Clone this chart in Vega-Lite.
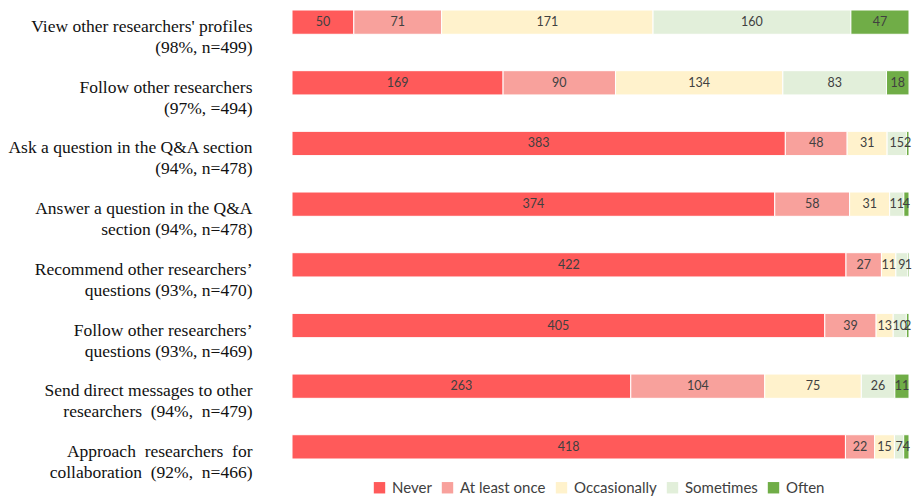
{
  "$schema": "https://vega.github.io/schema/vega-lite/v6.json",
  "autosize": {"type": "none"},
  "width": 617,
  "height": 449,
  "padding": {"left": 292, "top": 10, "right": 7, "bottom": 37},
  "background": "white",
  "config": {"view": {"stroke": null}},
  "data": {
    "values": [
      {"activity": "View other researchers' profiles\n(98%, n=499)", "order": 1, "freq": "Never", "rank": 1, "count": 50},
      {"activity": "View other researchers' profiles\n(98%, n=499)", "order": 1, "freq": "At least once", "rank": 2, "count": 71},
      {"activity": "View other researchers' profiles\n(98%, n=499)", "order": 1, "freq": "Occasionally", "rank": 3, "count": 171},
      {"activity": "View other researchers' profiles\n(98%, n=499)", "order": 1, "freq": "Sometimes", "rank": 4, "count": 160},
      {"activity": "View other researchers' profiles\n(98%, n=499)", "order": 1, "freq": "Often", "rank": 5, "count": 47},

      {"activity": "Follow other researchers\n(97%, =494)", "order": 2, "freq": "Never", "rank": 1, "count": 169},
      {"activity": "Follow other researchers\n(97%, =494)", "order": 2, "freq": "At least once", "rank": 2, "count": 90},
      {"activity": "Follow other researchers\n(97%, =494)", "order": 2, "freq": "Occasionally", "rank": 3, "count": 134},
      {"activity": "Follow other researchers\n(97%, =494)", "order": 2, "freq": "Sometimes", "rank": 4, "count": 83},
      {"activity": "Follow other researchers\n(97%, =494)", "order": 2, "freq": "Often", "rank": 5, "count": 18},

      {"activity": "Ask a question in the Q&A section\n(94%, n=478)", "order": 3, "freq": "Never", "rank": 1, "count": 383},
      {"activity": "Ask a question in the Q&A section\n(94%, n=478)", "order": 3, "freq": "At least once", "rank": 2, "count": 48},
      {"activity": "Ask a question in the Q&A section\n(94%, n=478)", "order": 3, "freq": "Occasionally", "rank": 3, "count": 31},
      {"activity": "Ask a question in the Q&A section\n(94%, n=478)", "order": 3, "freq": "Sometimes", "rank": 4, "count": 15},
      {"activity": "Ask a question in the Q&A section\n(94%, n=478)", "order": 3, "freq": "Often", "rank": 5, "count": 2},

      {"activity": "Answer a question in the Q&A\nsection (94%, n=478)", "order": 4, "freq": "Never", "rank": 1, "count": 374},
      {"activity": "Answer a question in the Q&A\nsection (94%, n=478)", "order": 4, "freq": "At least once", "rank": 2, "count": 58},
      {"activity": "Answer a question in the Q&A\nsection (94%, n=478)", "order": 4, "freq": "Occasionally", "rank": 3, "count": 31},
      {"activity": "Answer a question in the Q&A\nsection (94%, n=478)", "order": 4, "freq": "Sometimes", "rank": 4, "count": 11},
      {"activity": "Answer a question in the Q&A\nsection (94%, n=478)", "order": 4, "freq": "Often", "rank": 5, "count": 4},

      {"activity": "Recommend other researchers’\nquestions (93%, n=470)", "order": 5, "freq": "Never", "rank": 1, "count": 422},
      {"activity": "Recommend other researchers’\nquestions (93%, n=470)", "order": 5, "freq": "At least once", "rank": 2, "count": 27},
      {"activity": "Recommend other researchers’\nquestions (93%, n=470)", "order": 5, "freq": "Occasionally", "rank": 3, "count": 11},
      {"activity": "Recommend other researchers’\nquestions (93%, n=470)", "order": 5, "freq": "Sometimes", "rank": 4, "count": 9},
      {"activity": "Recommend other researchers’\nquestions (93%, n=470)", "order": 5, "freq": "Often", "rank": 5, "count": 1},

      {"activity": "Follow other researchers’\nquestions (93%, n=469)", "order": 6, "freq": "Never", "rank": 1, "count": 405},
      {"activity": "Follow other researchers’\nquestions (93%, n=469)", "order": 6, "freq": "At least once", "rank": 2, "count": 39},
      {"activity": "Follow other researchers’\nquestions (93%, n=469)", "order": 6, "freq": "Occasionally", "rank": 3, "count": 13},
      {"activity": "Follow other researchers’\nquestions (93%, n=469)", "order": 6, "freq": "Sometimes", "rank": 4, "count": 10},
      {"activity": "Follow other researchers’\nquestions (93%, n=469)", "order": 6, "freq": "Often", "rank": 5, "count": 2},

      {"activity": "Send direct messages to other\nresearchers\u00a0 (94%,\u00a0 n=479)", "order": 7, "freq": "Never", "rank": 1, "count": 263},
      {"activity": "Send direct messages to other\nresearchers\u00a0 (94%,\u00a0 n=479)", "order": 7, "freq": "At least once", "rank": 2, "count": 104},
      {"activity": "Send direct messages to other\nresearchers\u00a0 (94%,\u00a0 n=479)", "order": 7, "freq": "Occasionally", "rank": 3, "count": 75},
      {"activity": "Send direct messages to other\nresearchers\u00a0 (94%,\u00a0 n=479)", "order": 7, "freq": "Sometimes", "rank": 4, "count": 26},
      {"activity": "Send direct messages to other\nresearchers\u00a0 (94%,\u00a0 n=479)", "order": 7, "freq": "Often", "rank": 5, "count": 11},

      {"activity": "Approach\u00a0 researchers\u00a0 for\ncollaboration\u00a0 (92%,\u00a0 n=466)", "order": 8, "freq": "Never", "rank": 1, "count": 418},
      {"activity": "Approach\u00a0 researchers\u00a0 for\ncollaboration\u00a0 (92%,\u00a0 n=466)", "order": 8, "freq": "At least once", "rank": 2, "count": 22},
      {"activity": "Approach\u00a0 researchers\u00a0 for\ncollaboration\u00a0 (92%,\u00a0 n=466)", "order": 8, "freq": "Occasionally", "rank": 3, "count": 15},
      {"activity": "Approach\u00a0 researchers\u00a0 for\ncollaboration\u00a0 (92%,\u00a0 n=466)", "order": 8, "freq": "Sometimes", "rank": 4, "count": 7},
      {"activity": "Approach\u00a0 researchers\u00a0 for\ncollaboration\u00a0 (92%,\u00a0 n=466)", "order": 8, "freq": "Often", "rank": 5, "count": 4}
    ]
  },
  "encoding": {
    "y": {
      "field": "activity",
      "type": "nominal",
      "sort": {"field": "order", "op": "min"},
      "title": null,
      "scale": {"paddingInner": 0.6, "paddingOuter": 0},
      "axis": {
        "domain": false,
        "ticks": false,
        "labelPadding": 40,
        "labelFont": "Liberation Serif",
        "labelFontSize": 17.5,
        "labelColor": "#111111",
        "labelLineHeight": 21,
        "labelOffset": 5,
        "labelLimit": 300,
        "labelExpr": "split(datum.label, '\\n')"
      }
    },
    "x": {
      "field": "count",
      "type": "quantitative",
      "aggregate": "sum",
      "stack": "normalize",
      "axis": null,
      "scale": {"nice": false}
    },
    "order": {"field": "rank", "type": "quantitative", "aggregate": "min"}
  },
  "layer": [
    {
      "mark": {"type": "bar", "stroke": "white", "strokeWidth": 1},
      "encoding": {
        "color": {
          "field": "freq",
          "type": "nominal",
          "sort": ["Never", "At least once", "Occasionally", "Sometimes", "Often"],
          "scale": {
            "domain": ["Never", "At least once", "Occasionally", "Sometimes", "Often"],
            "range": ["#FF5A5A", "#F8A19C", "#FFF2CC", "#E2EFDA", "#70AD47"]
          },
          "legend": {
            "title": null,
            "orient": "none",
            "direction": "horizontal",
            "legendX": 80,
            "legendY": 470,
            "symbolType": "square",
            "symbolSize": 130,
            "symbolStrokeWidth": 0,
            "labelFont": "Lato",
            "labelFontSize": 15,
            "labelColor": "#404040",
            "labelOffset": 5,
            "columnPadding": 8
          }
        }
      }
    },
    {
      "mark": {"type": "text", "font": "Lato", "fontSize": 12.5, "color": "#404040", "align": "center", "baseline": "middle"},
      "encoding": {
        "detail": {"field": "freq", "type": "nominal"},
        "x": {
          "field": "count",
          "type": "quantitative",
          "aggregate": "sum",
          "stack": "normalize",
          "bandPosition": 0.5
        },
        "text": {"field": "count", "type": "quantitative", "aggregate": "sum"}
      }
    }
  ]
}
